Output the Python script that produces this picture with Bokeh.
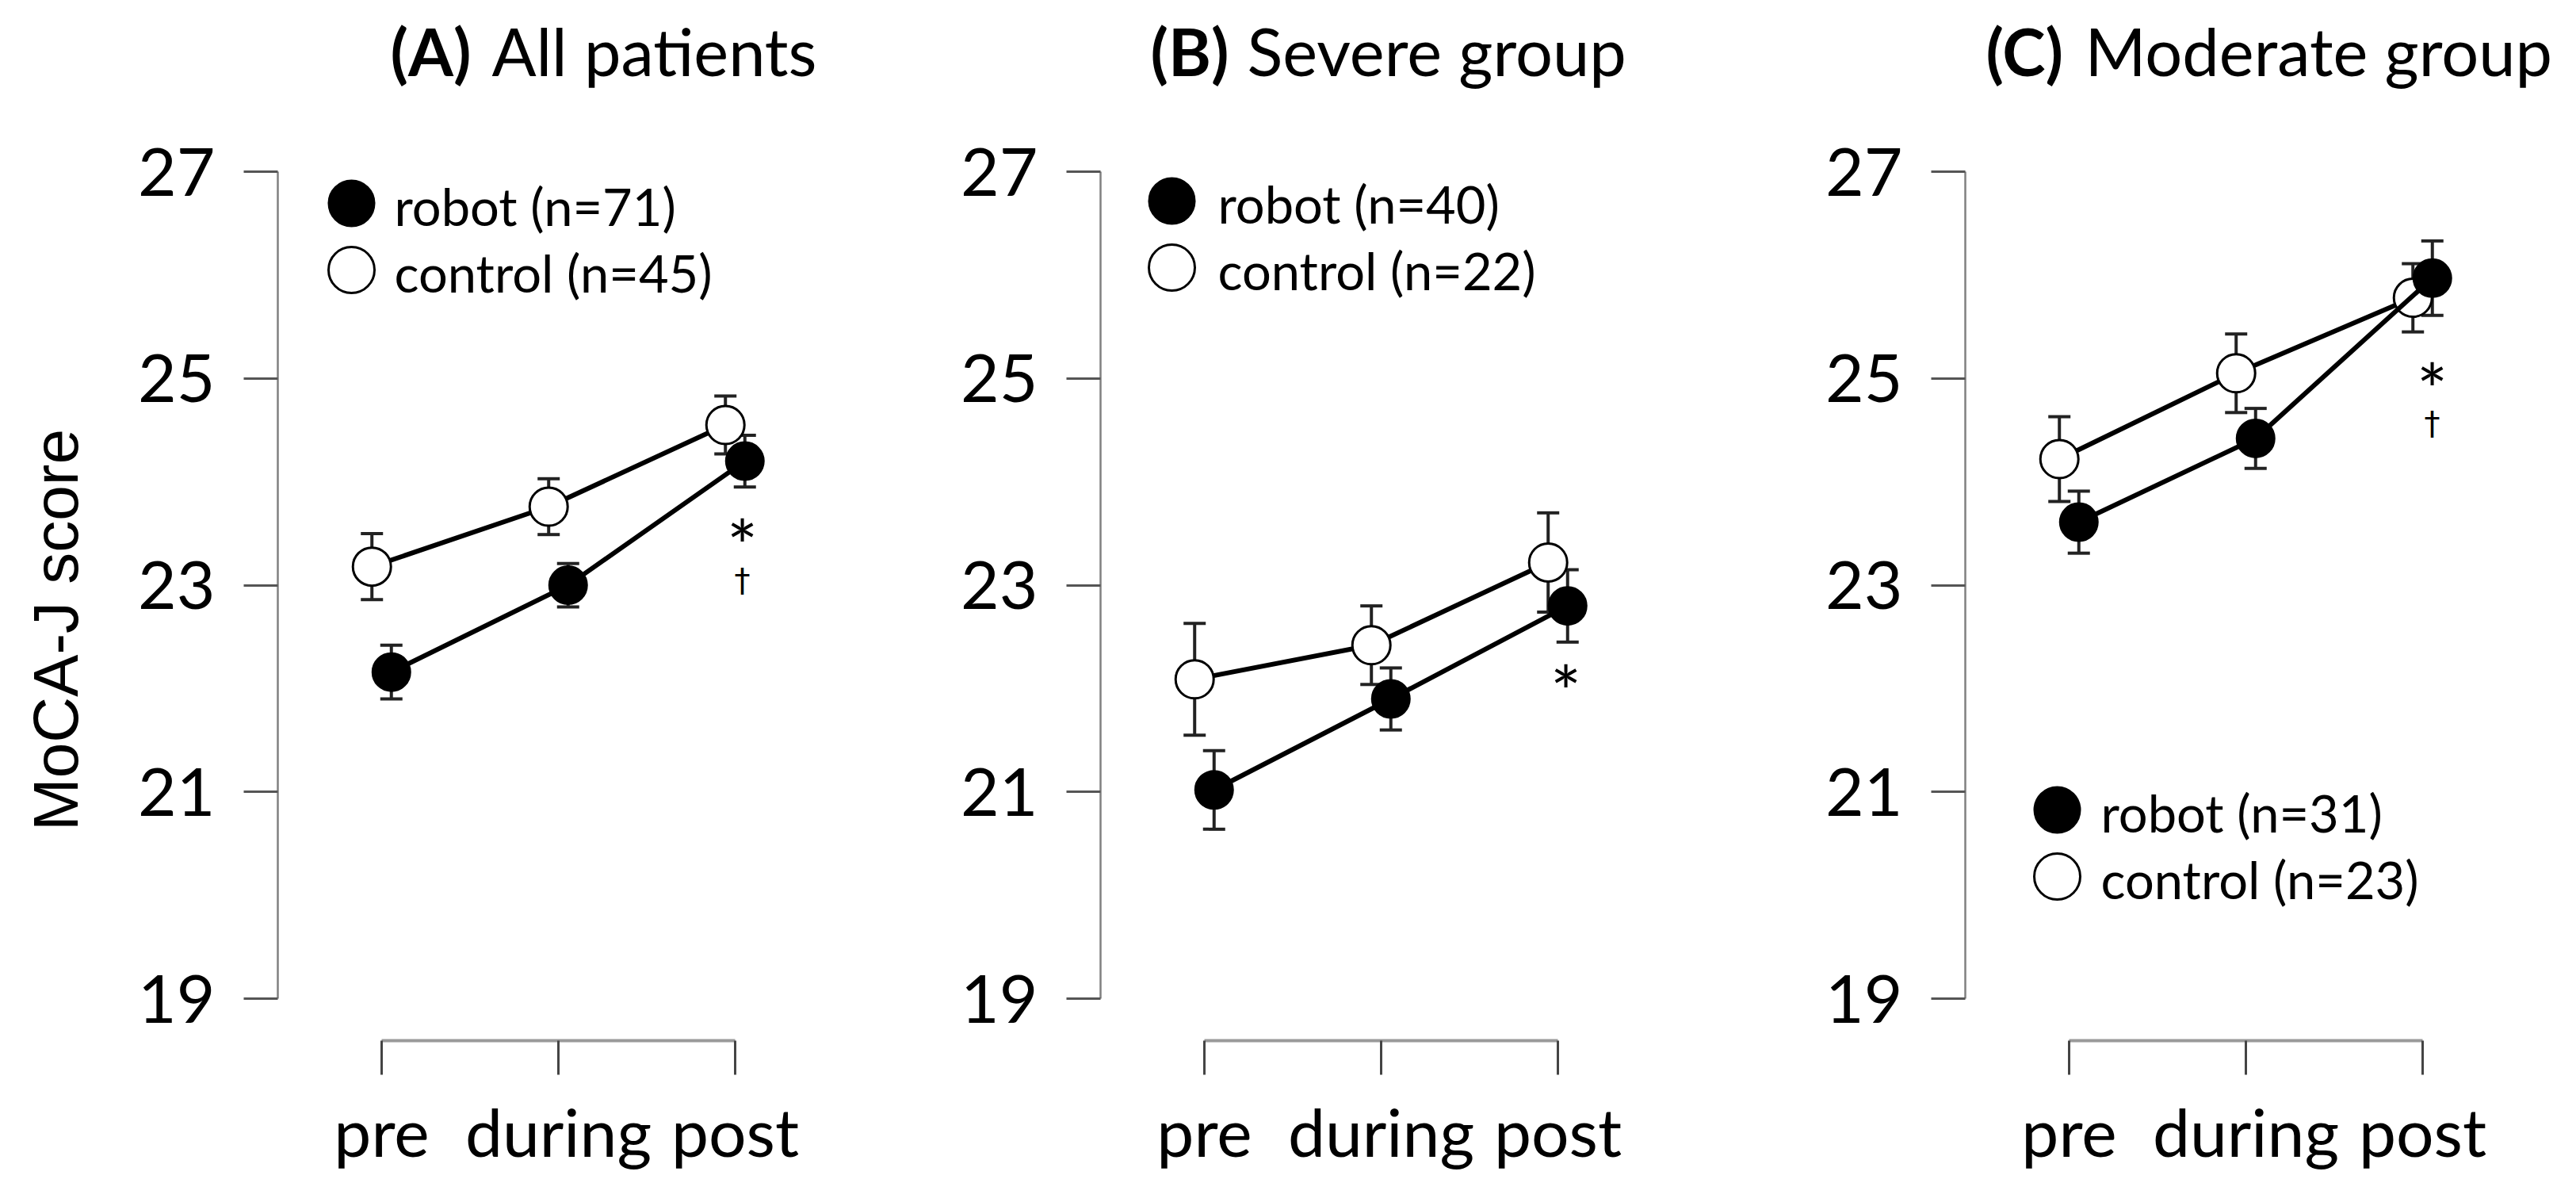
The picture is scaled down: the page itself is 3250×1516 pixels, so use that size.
import math
from bokeh.plotting import figure
from bokeh.models import (Label, Whisker, TeeHead, ColumnDataSource, FixedTicker,
                          LinearAxis, Range1d)
from bokeh.layouts import row
from bokeh.embed import file_html
from bokeh.resources import INLINE

# ---------------- data ----------------
phases = ["pre", "during", "post"]
phase_x = [1, 2, 3]
y_ticks = [19, 21, 23, 25, 27]

panel_bold = ["(A)", "(B)", "(C)"]
panel_names = ["All patients", "Severe group", "Moderate group"]
robot_n = [71, 40, 31]
control_n = [45, 22, 23]

robot_mean_A = [22.16, 23.00, 24.20]
robot_se_A = [0.26, 0.21, 0.25]
control_mean_A = [23.18, 23.76, 24.55]
control_se_A = [0.32, 0.27, 0.28]

robot_mean_B = [21.02, 21.90, 22.80]
robot_se_B = [0.38, 0.30, 0.35]
control_mean_B = [22.09, 22.42, 23.22]
control_se_B = [0.54, 0.38, 0.48]

robot_mean_C = [23.61, 24.42, 25.97]
robot_se_C = [0.30, 0.29, 0.36]
control_mean_C = [24.22, 25.05, 25.78]
control_se_C = [0.41, 0.38, 0.33]

sig_marks_A = ["*", "\u2020"]
sig_marks_B = ["*"]
sig_marks_C = ["*", "\u2020"]

y_label = "MoCA-J score"

# ---------------- layout constants ----------------
PX_X = 223.0       # pixels per x unit
PX_Y = 130.4       # pixels per y unit
X_START = 0.4126
TOP = 8
FRAME_TOP_PAGE = 8
FRAME_H = 1312 - FRAME_TOP_PAGE
Y_END = 27 + (216 - FRAME_TOP_PAGE) / PX_Y
Y_START = Y_END - FRAME_H / PX_Y
FIG_H = 1500
DODGE = 0.055

FONT = "Lato"


def px_x(dx):
    return X_START + dx / PX_X


def px_y(page_y):
    return 27 - (page_y - 216) / PX_Y


def make_panel(i, r_mean, r_se, c_mean, c_se, sig, frame_w, border_left,
               legend_cfg, title_cfg, sig_cfg):
    p = figure(frame_width=frame_w, frame_height=FRAME_H,
               x_range=Range1d(X_START, X_START + frame_w / PX_X),
               y_range=Range1d(Y_START, Y_END),
               output_backend="svg", toolbar_location=None,
               x_axis_location=None, y_axis_location=None,
               min_border_left=border_left, min_border_right=0,
               min_border_top=TOP, min_border_bottom=FIG_H - FRAME_H - TOP)
    p.grid.visible = False
    p.outline_line_color = None
    p.background_fill_color = "white"
    p.border_fill_color = "white"

    yaxis = LinearAxis(bounds=(19, 27), ticker=FixedTicker(ticks=y_ticks))
    yaxis.axis_line_color = "#808080"
    yaxis.axis_line_width = 2.5
    yaxis.major_tick_line_color = "#555555"
    yaxis.major_tick_line_width = 3
    yaxis.major_tick_out = 43
    yaxis.major_tick_in = 0
    yaxis.minor_tick_out = 0
    yaxis.minor_tick_in = 0
    yaxis.major_label_standoff = 36
    yaxis.major_label_text_font = FONT
    yaxis.major_label_text_font_size = "84px"
    yaxis.major_label_text_color = "black"
    p.add_layout(yaxis, "left")

    xaxis = LinearAxis(bounds=(1, 3), ticker=FixedTicker(ticks=phase_x),
                       major_label_overrides={x: lab for x, lab in zip(phase_x, phases)})
    xaxis.axis_line_color = "#9a9a9a"
    xaxis.axis_line_width = 4
    xaxis.major_tick_line_color = "#444444"
    xaxis.major_tick_line_width = 3
    xaxis.major_tick_out = 43
    xaxis.major_tick_in = 0
    xaxis.minor_tick_out = 0
    xaxis.minor_tick_in = 0
    xaxis.major_label_standoff = 20
    xaxis.major_label_text_font = FONT
    xaxis.major_label_text_font_size = "84px"
    xaxis.major_label_text_color = "black"
    p.add_layout(xaxis, "below")

    cx = [x - DODGE for x in phase_x]
    rx = [x + DODGE for x in phase_x]
    csrc = ColumnDataSource(dict(x=cx, y=c_mean,
                                 lo=[m - s for m, s in zip(c_mean, c_se)],
                                 hi=[m + s for m, s in zip(c_mean, c_se)]))
    rsrc = ColumnDataSource(dict(x=rx, y=r_mean,
                                 lo=[m - s for m, s in zip(r_mean, r_se)],
                                 hi=[m + s for m, s in zip(r_mean, r_se)]))
    for src, fill, lw in ((csrc, "white", 3), (rsrc, "black", 2)):
        w = Whisker(base="x", lower="lo", upper="hi", source=src,
                    line_color="#222222", line_width=4,
                    upper_head=TeeHead(size=28, line_color="#222222", line_width=4),
                    lower_head=TeeHead(size=28, line_color="#222222", line_width=4))
        p.add_layout(w)
        p.line("x", "y", source=src, line_color="black", line_width=6)
        p.scatter("x", "y", source=src, size=48, fill_color=fill,
                  line_color="black", line_width=lw)

    # legend
    mx, tx, y1, y2 = legend_cfg
    p.scatter(x=[mx, mx], y=[y1, y2], size=58, fill_color=["black", "white"],
              line_color="black", line_width=[2, 3])
    for yy, txt in ((y1, f"robot (n={robot_n[i]})"), (y2, f"control (n={control_n[i]})")):
        p.add_layout(Label(x=tx, y=yy - 0.03, text=txt, text_font=FONT,
                           text_font_size="65px", text_align="left",
                           text_baseline="middle", text_color="black"))

    # title (bold panel letter + normal name)
    bx, nx = title_cfg
    ty = px_y(63)
    p.add_layout(Label(x=bx, y=ty, text=panel_bold[i], text_font=FONT,
                       text_font_style="bold", text_font_size="82px",
                       text_align="left", text_baseline="alphabetic", text_color="black"))
    p.add_layout(Label(x=nx, y=ty, text=panel_names[i], text_font=FONT,
                       text_font_size="83px", text_align="left",
                       text_baseline="alphabetic", text_color="black"))

    # significance marks
    sx, sy_list = sig_cfg
    for mark, sy in zip(sig, sy_list):
        if mark == "*":
            p.add_layout(Label(x=sx, y=sy, text=mark, text_font=FONT,
                               text_font_size="92px", text_align="center",
                               text_baseline="middle", text_color="black"))
        else:
            p.add_layout(Label(x=sx, y=sy, text=mark, text_font="DejaVu Sans",
                               text_font_size="40px", text_align="center",
                               text_baseline="middle", text_color="black"))
    return p


# narrow figure that only carries the y-axis title
LW = 158
p0 = figure(frame_width=LW, frame_height=FIG_H, x_range=Range1d(0, LW),
            y_range=Range1d(0, FIG_H), output_backend="svg", toolbar_location=None,
            x_axis_location=None, y_axis_location=None, min_border=0)
p0.grid.visible = False
p0.outline_line_color = None
p0.add_layout(Label(x=70, y=FIG_H - 786, text=y_label,
                    text_font="Liberation Sans", text_font_size="80px",
                    angle=math.pi / 2, text_align="center",
                    text_baseline="middle", text_color="black"))

pA = make_panel(0, robot_mean_A, robot_se_A, control_mean_A, control_se_A, sig_marks_A,
                700, 350 - LW,
                (px_x(93), px_x(147), px_y(256), px_y(340)),
                (px_x(142), px_x(270)),
                (px_x(586), [px_y(686), px_y(731)]))
pB = make_panel(1, robot_mean_B, robot_se_B, control_mean_B, control_se_B, sig_marks_B,
                700, 338,
                (px_x(90), px_x(148), px_y(253), px_y(337)),
                (px_x(63), px_x(185)),
                (px_x(587), [px_y(870)]))
pC = make_panel(2, robot_mean_C, robot_se_C, control_mean_C, control_se_C, sig_marks_C,
                761, 391,
                (px_x(116), px_x(171), px_y(1021), px_y(1105)),
                (px_x(26), px_x(151)),
                (px_x(589), [px_y(489), px_y(533)]))

layout = row(p0, pA, pB, pC)
open("out.html", "w").write(file_html(layout, INLINE))
